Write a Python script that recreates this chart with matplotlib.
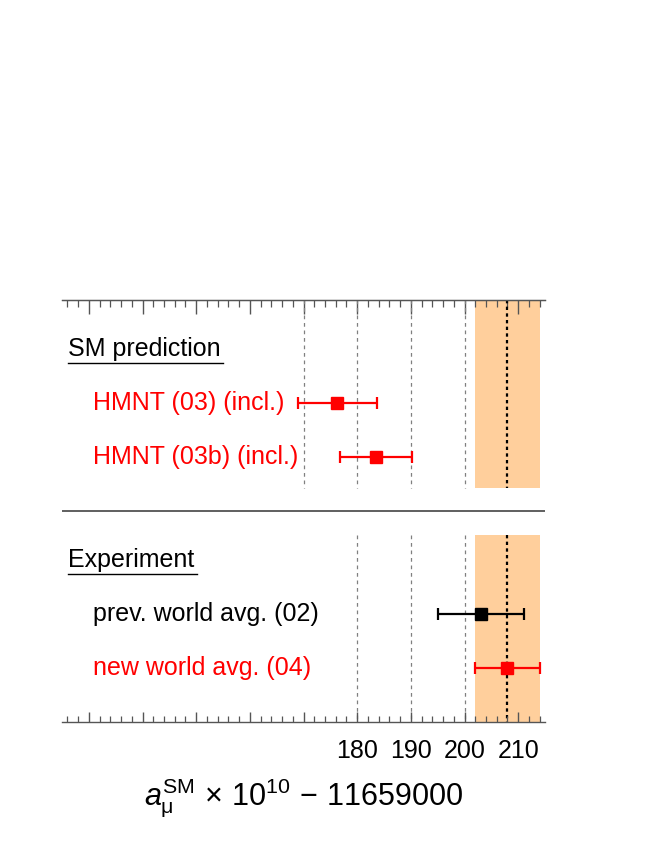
import matplotlib
matplotlib.use("Agg")
import matplotlib.pyplot as plt
from matplotlib.ticker import MultipleLocator, FuncFormatter

plt.rcParams['font.family'] = ['Liberation Sans', 'DejaVu Sans']
plt.rcParams['mathtext.fontset'] = 'custom'
plt.rcParams['mathtext.rm'] = 'Liberation Sans'
plt.rcParams['mathtext.it'] = 'Liberation Sans:italic'

# data: a_mu x 1e10 - 11659000
sm_labels = ['HMNT (03) (incl.)', 'HMNT (03b) (incl.)']
sm_values = [176.3, 183.5]
sm_errors = [7.4, 6.7]

exp_labels = ['prev. world avg. (02)', 'new world avg. (04)']
exp_values = [203.0, 208.0]
exp_errors = [8.0, 6.0]
exp_colors = ['black', 'red']

band_center = 208.0
band_half = 6.0
grid_top = [170, 180, 190, 200]
grid_bottom = [180, 190, 200]
tick_labels_shown = [180, 190, 200, 210]

W, H = 654, 846
fig = plt.figure(figsize=(W / 100, H / 100), dpi=100)
ax = fig.add_axes([62 / W, (H - 722) / H, (545 - 62) / W, (722 - 300) / H])

# y in pixel-like units, top to bottom
ax.set_xlim(125, 215)
ax.set_ylim(722, 300)

top_span = (300, 488)
bot_span = (535, 722)
sm_rows = [403, 457]
exp_rows = [614, 668]

# band and guide lines
for y0, y1 in (top_span, bot_span):
    ax.fill_betweenx([y0, y1], band_center - band_half, band_center + band_half,
                     color='#ffcf9c', lw=0, zorder=0)
    ax.plot([band_center, band_center], [y0, y1], color='black', lw=1.6,
            ls=(0, (1.5, 1.5)), zorder=1)
for g in grid_top:
    ax.plot([g, g], top_span, color='gray', lw=0.9, ls=(0, (3, 3)), zorder=1)
for g in grid_bottom:
    ax.plot([g, g], bot_span, color='gray', lw=0.9, ls=(0, (3, 3)), zorder=1)

ax.axhline(511, color='#444444', lw=1.2)

# points
for y, v, e in zip(sm_rows, sm_values, sm_errors):
    ax.errorbar(v, y, xerr=e, fmt='s', color='red', ms=8.5, lw=1.6,
                capsize=4, capthick=1.6, zorder=3)
for y, v, e, c in zip(exp_rows, exp_values, exp_errors, exp_colors):
    ax.errorbar(v, y, xerr=e, fmt='s', color=c, ms=8.5, lw=1.6,
                capsize=4, capthick=1.6, zorder=3)

# labels
fs = 18
def header(text, y, x_end):
    ax.text(126.1, y, text, fontsize=fs, va='center', ha='left')
    ax.plot([126.1, x_end], [y + 14, y + 14], color='black', lw=1.0,
            clip_on=False)

header('SM prediction', 349, 155.0)
header('Experiment', 560, 150.2)
for y, lab in zip(sm_rows, sm_labels):
    ax.text(130.7, y, lab, fontsize=fs, color='red', va='center', ha='left')
for y, lab, c in zip(exp_rows, exp_labels, exp_colors):
    ax.text(130.7, y, lab, fontsize=fs, color=c, va='center', ha='left')

# axes styling
for s in ('left', 'right'):
    ax.spines[s].set_visible(False)
for s in ('top', 'bottom'):
    ax.spines[s].set_color('#555555')
    ax.spines[s].set_linewidth(1.0)
ax.set_yticks([])
ax.xaxis.set_major_locator(MultipleLocator(10))
ax.xaxis.set_minor_locator(MultipleLocator(2))
ax.xaxis.set_major_formatter(FuncFormatter(
    lambda v, p: '%d' % v if round(v) in tick_labels_shown else ''))
ax.tick_params(axis='x', which='both', direction='in', bottom=True, top=False,
               color='#555555')
ax.tick_params(axis='x', which='major', length=7, width=1.0, pad=12,
               labelsize=fs)
ax.tick_params(axis='x', which='minor', length=4, width=0.9)

sec = ax.secondary_xaxis('top')
sec.xaxis.set_major_locator(MultipleLocator(10))
sec.xaxis.set_minor_locator(MultipleLocator(2))
sec.tick_params(axis='x', which='both', direction='in', labeltop=False,
                color='#555555')
sec.tick_params(axis='x', which='major', length=10, width=1.0)
sec.tick_params(axis='x', which='minor', length=5, width=0.9)
sec.spines['top'].set_color('#555555')

ax.set_xlabel(r'$a_{\rm \mu}^{\rm SM}\,\times\,10^{10}\,-\,11659000$',
              fontsize=22, labelpad=10)

fig.savefig('out.png', dpi=100)
